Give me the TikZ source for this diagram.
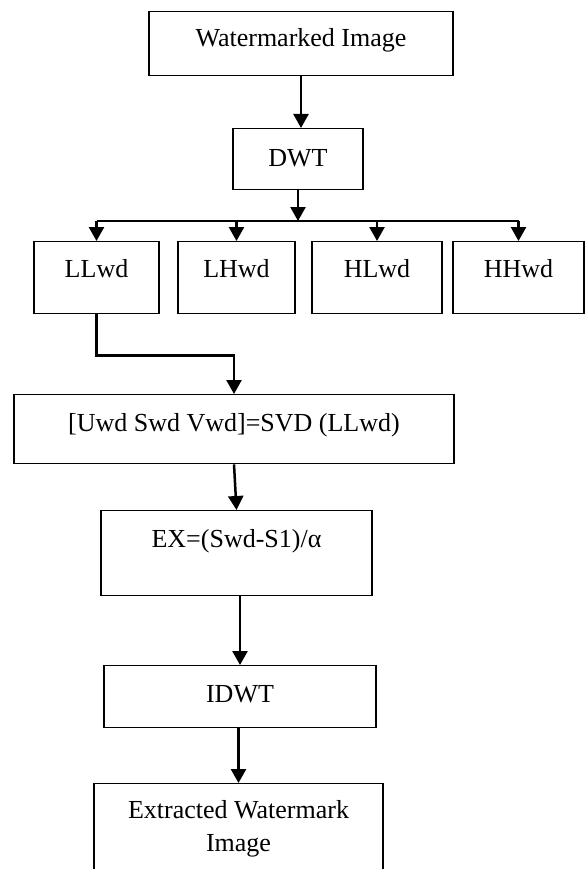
\documentclass[tikz,border=0pt]{standalone}
\usepackage{fontspec}
\setmainfont{Liberation Serif}
\usetikzlibrary{arrows.meta}
\begin{document}
\begin{tikzpicture}[x=1pt, y=-1pt,
    box/.style={draw, line width=1.4pt, anchor=north, inner sep=0pt, align=center,
      font=\fontsize{26}{33}\selectfont},
    arr/.style={line width=2.5pt, -{Triangle[length=14pt,width=15pt]}}]
    \useasboundingbox (0,0) rectangle (585,869);

    \node[box, minimum width=304pt, text height=35pt, text depth=29pt] (wimg) at (301,11) {Watermarked Image};
    \node[box, minimum width=130pt, text height=38pt, text depth=23pt] (dwt) at (298,128) {DWT};

    \node[box, minimum width=125pt, text height=36pt, text depth=36pt] (llwd) at (96.5,241) {LLwd};
    \node[box, minimum width=117pt, text height=36pt, text depth=36pt] (lhwd) at (236.5,241) {LHwd};
    \node[box, minimum width=130pt, text height=36pt, text depth=36pt] (hlwd) at (377,241) {HLwd};
    \node[box, minimum width=131pt, text height=36pt, text depth=36pt] (hhwd) at (518.5,241) {HHwd};

    \node[box, minimum width=440pt, text height=37pt, text depth=32pt] (svd) at (234,394) {[Uwd Swd Vwd]=SVD (LLwd)};
    \node[box, minimum width=271pt, text height=37pt, text depth=48pt] (ex) at (236.5,510) {EX=(Swd-S1)/α};
    \node[box, minimum width=272pt, text height=37pt, text depth=25pt] (idwt) at (240,665) {IDWT};
    \node[box, minimum width=289pt, text height=68pt, text depth=110pt] (wmark) at (238.5,783) {Extracted Watermark\\Image};

    \coordinate (fork) at (298,221);

    \draw[arr] (wimg.south) -- (wimg.south |- dwt.north);
    \draw[arr] (dwt.south) -- (fork);
    \draw[line width=2.5pt] (llwd.north |- fork) -- (hhwd.north |- fork);
    \foreach \n in {llwd, lhwd, hlwd, hhwd}
      \draw[arr] (\n.north |- fork) -- (\n.north);

    \draw[arr] (llwd.south) -- ++(0,41) -| (svd.north);
    \draw[arr] (svd.south) -- (ex.north);
    \draw[arr] (ex.south -| idwt.north) -- (idwt.north);
    \draw[arr] (idwt.south -| wmark.north) -- (wmark.north);
  \end{tikzpicture}
\end{document}
